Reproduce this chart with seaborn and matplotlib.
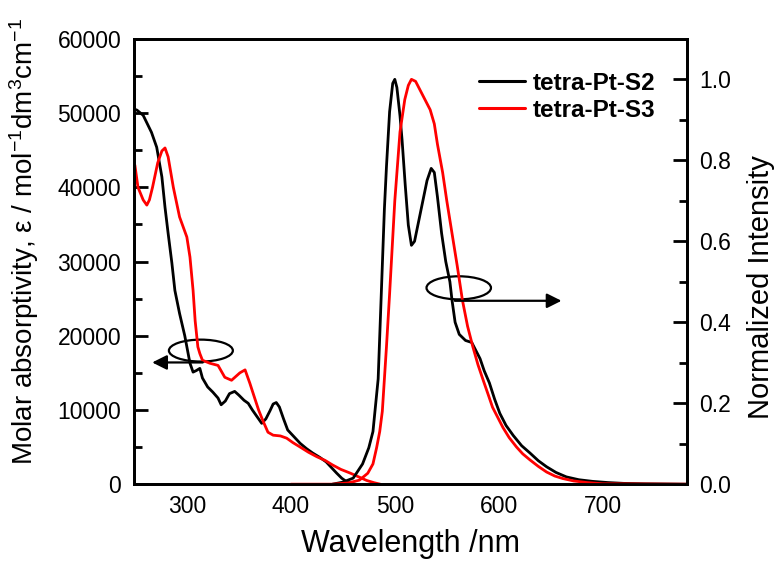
import matplotlib
matplotlib.use("Agg")
import matplotlib.pyplot as plt
from matplotlib.patches import Ellipse
from matplotlib.lines import Line2D
import seaborn as sns
import pandas as pd

# ---------------- data ----------------
samples = ["tetra-Pt-S2", "tetra-Pt-S3"]
colors = {"tetra-Pt-S2": "black", "tetra-Pt-S3": "red"}

abs_s2_wl = [250, 252, 258, 266, 271, 276, 279, 282, 285.6, 288.5, 293, 298, 303, 306,
             309, 312.5, 315, 320, 325, 330, 333, 337, 341, 346, 350, 355, 359, 363,
             368, 372, 376, 380, 383, 386, 389, 393, 397, 403, 409, 415, 421, 428,
             434, 440, 444, 449, 454, 458, 462]
abs_s2_eps = [50500, 50400, 49700, 47400, 45400, 41400, 37300, 33800, 29800, 26100,
              23000, 20000, 16300, 15100, 15300, 15600, 14300, 13100, 12400, 11600,
              10700, 11200, 12200, 12500, 12000, 11300, 10900, 10000, 9000, 8200,
              8800, 9900, 10800, 11000, 10400, 8800, 7300, 6400, 5500, 4800, 4200,
              3600, 3000, 2100, 1500, 800, 300, 100, 0]

abs_s3_wl = [250, 253, 258, 261.5, 264, 267, 272, 276, 279, 282, 287, 293, 300, 303,
             306, 308, 310.6, 312.5, 315, 322, 330, 336.5, 343, 351, 356, 360.6, 365,
             369, 373, 378, 383, 390, 396, 402, 409, 417, 425, 433, 440, 448, 457,
             465, 473, 480, 486]
abs_s3_eps = [43000, 40000, 38300, 37600, 38300, 40000, 43300, 44900, 45300, 44100,
              40000, 36000, 33300, 30600, 26100, 22000, 18500, 17600, 16700, 16300,
              16000, 14400, 14000, 15000, 15400, 13600, 11700, 10000, 8600, 7000,
              6600, 6500, 6200, 5600, 5000, 4300, 3700, 3200, 2600, 2000, 1500,
              1000, 500, 200, 0]

em_s2_wl = [440, 450, 460, 469, 475, 479, 484, 486, 488, 490, 492, 495, 498, 500, 502,
            505, 507, 510, 513, 516, 519, 523, 527, 531, 535, 538, 541, 545, 549,
            553, 555, 558, 562, 568, 574, 578, 582, 586, 591, 596, 601, 607, 614,
            622, 630, 638, 646, 655, 665, 677, 690, 705, 720, 740, 780]
em_s2_int = [0, 0.005, 0.015, 0.05, 0.09, 0.13, 0.26, 0.40, 0.54, 0.68, 0.785, 0.92,
             0.99, 1.0, 0.98, 0.91, 0.85, 0.74, 0.64, 0.59, 0.60, 0.65, 0.70, 0.75,
             0.78, 0.77, 0.71, 0.62, 0.55, 0.50, 0.455, 0.40, 0.37, 0.355, 0.35,
             0.33, 0.31, 0.28, 0.25, 0.21, 0.175, 0.145, 0.12, 0.095, 0.077, 0.058,
             0.043, 0.029, 0.018, 0.011, 0.007, 0.004, 0.002, 0.001, 0]

em_s3_wl = [400, 440, 455, 466, 474, 479, 482.5, 485.5, 488, 490, 492, 495, 500, 505,
            509.6, 513, 516, 520, 524, 529, 534, 538, 541, 546, 550, 555, 560, 565,
            570, 575, 580, 585, 590, 594, 599, 604, 610, 617, 623, 630, 638, 646,
            654, 661.5, 672, 685, 700, 780]
em_s3_int = [0, 0, 0.003, 0.01, 0.027, 0.05, 0.09, 0.13, 0.18, 0.26, 0.34, 0.47, 0.70,
             0.87, 0.95, 0.985, 1.0, 0.995, 0.975, 0.95, 0.925, 0.89, 0.84, 0.77,
             0.70, 0.62, 0.54, 0.455, 0.39, 0.34, 0.295, 0.257, 0.22, 0.19, 0.165,
             0.14, 0.115, 0.092, 0.075, 0.06, 0.044, 0.03, 0.02, 0.014, 0.008,
             0.004, 0.001, 0]

x_ticks = [300, 400, 500, 600, 700]
y1_ticks = [0, 10000, 20000, 30000, 40000, 50000, 60000]
y2_ticks = [0.0, 0.2, 0.4, 0.6, 0.8, 1.0]

# ---------------- frames ----------------
abs_df = pd.concat([
    pd.DataFrame({"wl": abs_s2_wl, "val": abs_s2_eps, "sample": samples[0]}),
    pd.DataFrame({"wl": abs_s3_wl, "val": abs_s3_eps, "sample": samples[1]}),
], ignore_index=True)
em_df = pd.concat([
    pd.DataFrame({"wl": em_s2_wl, "val": em_s2_int, "sample": samples[0]}),
    pd.DataFrame({"wl": em_s3_wl, "val": em_s3_int, "sample": samples[1]}),
], ignore_index=True)

# ---------------- style ----------------
sns.set_style("white")
plt.rcParams["font.family"] = ["Liberation Sans", "DejaVu Sans"]
plt.rcParams["mathtext.fontset"] = "custom"
plt.rcParams["mathtext.rm"] = "Liberation Sans"
plt.rcParams["mathtext.it"] = "Liberation Sans:italic"
plt.rcParams["mathtext.default"] = "regular"
plt.rcParams["text.color"] = "black"
plt.rcParams["axes.labelcolor"] = "black"
plt.rcParams["xtick.color"] = "black"
plt.rcParams["ytick.color"] = "black"

fig = plt.figure(figsize=(7.78, 5.63), dpi=100)
ax = fig.add_axes([0.172, 0.140, 0.883 - 0.172, 0.931 - 0.140])
ax2 = ax.twinx()

sns.lineplot(data=abs_df, x="wl", y="val", hue="sample", palette=colors,
             sort=False, estimator=None, lw=2.0, legend=False, ax=ax)
sns.lineplot(data=em_df, x="wl", y="val", hue="sample", palette=colors,
             sort=False, estimator=None, lw=2.0, legend=False, ax=ax2)

ax.set_xlim(249, 781)
ax.set_ylim(0, 60000)
ax2.set_ylim(0, 1.1)

ax.set_xticks(x_ticks)
ax.set_xticks([250, 350, 450, 550, 650, 750], minor=True)
ax.set_yticks(y1_ticks)
ax.set_yticks([5000, 15000, 25000, 35000, 45000, 55000], minor=True)
ax2.set_yticks(y2_ticks)
ax2.set_yticks([0.1, 0.3, 0.5, 0.7, 0.9], minor=True)
ax2.set_yticklabels([f"{v:.1f}" for v in y2_ticks])

for a in (ax, ax2):
    for s in a.spines.values():
        s.set_linewidth(2.0)
        s.set_color("black")
ax.tick_params(axis="both", which="major", direction="in", length=10, width=2,
               labelsize=16.5, colors="black")
ax.tick_params(axis="both", which="minor", direction="in", length=6, width=2)
ax.tick_params(axis="y", pad=9)
ax.tick_params(axis="x", pad=8)
ax.tick_params(top=False, right=False, which="both")
ax2.tick_params(axis="y", which="major", direction="in", length=10, width=2,
                labelsize=16.5, pad=9, colors="black")
ax2.tick_params(axis="y", which="minor", direction="in", length=6, width=2)

ax.set_xlabel("Wavelength /nm", fontsize=22)
ax.xaxis.set_label_coords(0.5, -0.10)
ax.set_ylabel(r"Molar absorptivity, ε / mol$^{-1}$dm$^{3}$cm$^{-1}$", fontsize=20)
ax.yaxis.set_label_coords(-0.168, 0.546)
ax2.set_ylabel("Normalized Intensity", fontsize=21)
ax2.yaxis.set_label_coords(1.108, 0.443)

# annotations: ellipses and arrows
ax.add_patch(Ellipse((313.5, 18000), 61.5, 2950, fill=False, lw=1.6, ec="black"))
ax.annotate("", xy=(264, 16400), xytext=(318, 16400),
            arrowprops=dict(arrowstyle="-|>", color="black", lw=1.6, mutation_scale=22))
ax2.add_patch(Ellipse((561.5, 0.485), 62, 0.057, fill=False, lw=1.6, ec="black"))
ax2.annotate("", xy=(663, 0.453), xytext=(555, 0.453),
             arrowprops=dict(arrowstyle="-|>", color="black", lw=1.6, mutation_scale=22))

handles = [Line2D([], [], color=colors[s], lw=2.2) for s in samples]
leg = ax2.legend(handles, samples, loc="upper left", bbox_to_anchor=(0.585, 0.975),
                 frameon=False, prop={"weight": "bold", "size": 17.5},
                 handlelength=1.9, handletextpad=0.3, labelspacing=0.15)

fig.savefig("out.png", dpi=100)
